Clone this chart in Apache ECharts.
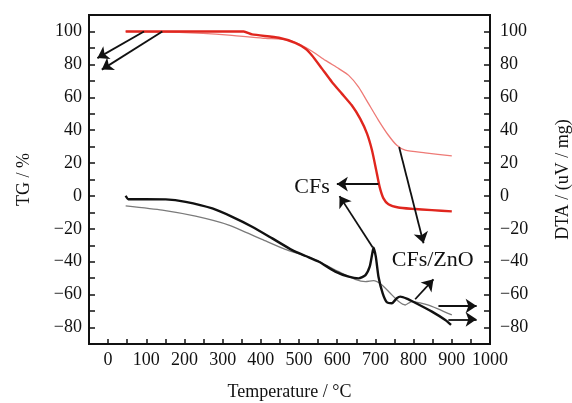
<!DOCTYPE html>
<html>
<head>
<meta charset="utf-8">
<script src="https://cdn.jsdelivr.net/npm/echarts@6/dist/echarts.min.js"></script>
<style>html,body{margin:0;padding:0;background:#fff;}#c{width:572px;height:403px;}</style>
</head>
<body>
<div id="c"></div>
<script>
// TG of CFs (thick red)
const tgCFs = [[46,100],[200,100],[355,100],[377,98.2],[447,96.2],[490,93.1],[517,89.5],[534,85.4],[560,77.4],[586,69.3],[612,62.2],[638,55.1],[660,47],[678,37.9],[691,27.8],[702,15.7],[711,5.5],[721,-1.5],[734,-5],[760,-7],[795,-7.8],[848,-8.6],[900,-9.4]];
// TG of CFs/ZnO (thin light red)
const tgZnO = [[46,100],[186,99.4],[316,97.8],[412,95.8],[464,95],[499,92.5],[534,88],[569,82.4],[604,77.4],[630,73.3],[656,66.2],[682,56.1],[708,46],[734,36.9],[756,30.8],[778,27.8],[830,26.2],[900,24.3]];
// DTA of CFs (thick black)
const dtaCFs = [[46,0.1],[53,-2],[98,-2],[151,-2.1],[203,-3.6],[273,-7.6],[325,-12.7],[377,-18.7],[430,-25.8],[482,-32.9],[517,-36.5],[552,-40],[595,-46],[630,-49.1],[656,-50.1],[674,-48.1],[685,-43],[691,-35.9],[695,-31.5],[701,-36.9],[708,-49.1],[719,-59.2],[730,-64.6],[743,-65.2],[756,-62.2],[765,-61.2],[782,-62.4],[804,-64.9],[848,-70.3],[883,-75.4],[898,-78.4]];
// DTA of CFs/ZnO (thin grey)
const dtaZnO = [[46,-6],[142,-8.6],[229,-12.3],[316,-17.7],[403,-26.4],[464,-32.5],[534,-37.9],[604,-46],[647,-50.7],[674,-52.1],[695,-51.5],[717,-54.1],[739,-59.2],[761,-64.2],[778,-66.3],[795,-64.2],[839,-66.3],[900,-72.3]];
// annotation arrows [x1,y1,x2,y2]
const arrows = [[94,100,-28,83.8],[142,100,-16.5,76.8],[708,7.2,599,7.2],[693,-31.3,606,-0.1],[762,29.8,826,-28.8],[804,-62.8,852,-50.7],[865,-66.9,965,-66.9],[891,-75,965,-75]];
// annotation texts
const notes = [[534,5.5,'CFs'],[850,-39,'CFs/ZnO']];
const xTicks = [0,100,200,300,400,500,600,700,800,900,1000];

const FONT = 'Liberation Serif';
const fmtY = v => (v % 20 === 0 && v >= -80 && v <= 100) ? String(v).replace('-', '\u2212') : '';
function yAx(pos, name, gap) {
  return {
    type: 'value', position: pos, min: -90, max: 110, interval: 10,
    name: name, nameLocation: 'middle', nameGap: gap, nameRotate: 90,
    nameTextStyle: {fontFamily: FONT, fontSize: 18, color: '#111'},
    axisLine: {show: true, onZero: false, lineStyle: {color: '#111', width: 2}},
    axisTick: {show: true, inside: true, length: 6, lineStyle: {color: '#111', width: 1.5}},
    axisLabel: {formatter: fmtY, fontFamily: FONT, fontSize: 18, color: '#111', margin: pos === 'left' ? 7 : 10},
    splitLine: {show: false}
  };
}
const chart = echarts.init(document.getElementById('c'), null, {renderer: 'canvas'});
chart.setOption({
  animation: false,
  backgroundColor: '#fff',
  grid: {left: 89, right: 82, top: 15, bottom: 59, containLabel: false, outerBoundsMode: 'none', show: true, borderColor: '#111', borderWidth: 2, backgroundColor: 'transparent'},
  xAxis: {
    type: 'value', min: -50, max: 1000, interval: 50,
    name: 'Temperature / \u00B0C', nameLocation: 'middle', nameGap: 39,
    nameTextStyle: {fontFamily: FONT, fontSize: 18, color: '#111'},
    axisLine: {show: true, onZero: false, lineStyle: {color: '#111', width: 2}},
    axisTick: {show: true, inside: true, length: 5, lineStyle: {color: '#111', width: 1.5}},
    axisLabel: {formatter: v => xTicks.indexOf(v) >= 0 ? String(v) : '', fontFamily: FONT, fontSize: 18, color: '#111', margin: 7, hideOverlap: false, showMaxLabel: true, showMinLabel: false},
    splitLine: {show: false}
  },
  yAxis: [yAx('left', 'TG / %', 56), yAx('right', 'DTA / (uV / mg)', 64)],
  series: [
    {type: 'line', data: tgCFs, yAxisIndex: 0, showSymbol: false, smooth: 0.2, lineStyle: {color: '#e0261e', width: 2.4}, z: 3,
     markLine: {silent: true, symbol: ['none', 'arrow'], symbolSize: 11, label: {show: false},
       lineStyle: {color: '#111', width: 1.8, type: 'solid'},
       data: arrows.map(a => [{coord: [a[0], a[1]]}, {coord: [a[2], a[3]]}])},
     markPoint: {silent: true, symbol: 'circle', symbolSize: 0, itemStyle: {color: 'transparent', opacity: 1},
       label: {show: true, position: 'inside', formatter: p => p.name, fontFamily: FONT, fontSize: 22, color: '#111', opacity: 1},
       data: notes.map(n => ({name: n[2], coord: [n[0], n[1]]}))}},
    {type: 'line', data: tgZnO, yAxisIndex: 0, showSymbol: false, smooth: 0.2, lineStyle: {color: '#ee7a76', width: 1.3}, z: 2},
    {type: 'line', data: dtaCFs, yAxisIndex: 1, showSymbol: false, smooth: 0.2, lineStyle: {color: '#111', width: 2.4}, z: 3},
    {type: 'line', data: dtaZnO, yAxisIndex: 1, showSymbol: false, smooth: 0.2, lineStyle: {color: '#7a7a7a', width: 1.3}, z: 2}
  ]
});
</script>
</body>
</html>
